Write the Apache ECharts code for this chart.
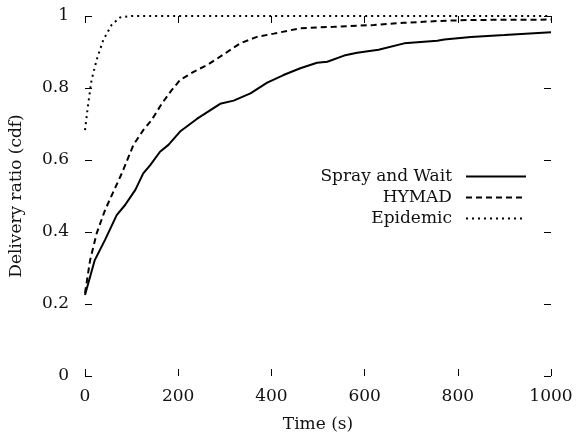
<!DOCTYPE html>
<html>
<head>
<meta charset="utf-8">
<script src="https://cdn.jsdelivr.net/npm/echarts@6/dist/echarts.min.js"></script>
<style>
  html, body { margin: 0; padding: 0; background: #fff; }
  #chart { width: 579px; height: 441px; }
</style>
</head>
<body>
<div id="chart"></div>
<script>
// values
let seriesNames = ['Spray and Wait', 'HYMAD', 'Epidemic'];

let sprayT = [0, 21, 43, 68, 86, 108, 125, 140, 161, 179, 204, 240, 290, 319, 355, 391, 426, 462, 498, 520, 556, 584, 630, 685, 756, 771, 828, 900, 1000];
let sprayV = [0.225, 0.322, 0.378, 0.447, 0.475, 0.517, 0.563, 0.586, 0.623, 0.642, 0.679, 0.714, 0.756, 0.765, 0.785, 0.815, 0.836, 0.855, 0.870, 0.873, 0.890, 0.898, 0.906, 0.924, 0.931, 0.935, 0.942, 0.947, 0.955];

let hymadT = [0, 11, 25, 43, 61, 79, 104, 125, 143, 165, 186, 204, 233, 265, 290, 333, 369, 405, 462, 534, 620, 684, 756, 828, 1000];
let hymadV = [0.23, 0.322, 0.396, 0.461, 0.512, 0.563, 0.642, 0.683, 0.711, 0.757, 0.794, 0.822, 0.845, 0.866, 0.887, 0.924, 0.942, 0.951, 0.966, 0.970, 0.975, 0.981, 0.986, 0.989, 0.99];

let epiT = [0, 7, 14, 25, 39, 57, 75, 100, 1000];
let epiV = [0.683, 0.757, 0.822, 0.878, 0.933, 0.975, 0.996, 1, 1];

let xTicks = [0, 200, 400, 600, 800, 1000];
let yTicks = [0, 0.2, 0.4, 0.6, 0.8, 1];

let font = 'DejaVu Serif';

let pairs = function (t, v) {
  let res = [];
  for (let i = 0; i < t.length; i++) {
    res.push([t[i], v[i]]);
  }
  return res;
};

let chart = echarts.init(document.getElementById('chart'));

let tickStyle = { show: true, inside: true, length: 7, lineStyle: { color: '#000', width: 1 } };
let noLine = { show: false, onZero: false };

chart.setOption({
  backgroundColor: '#fff',
  animation: false,
  grid: { left: 85, right: 28, top: 16, bottom: 65 },
  legend: {
    orient: 'vertical',
    align: 'right',
    right: 52,
    top: 168,
    padding: 0,
    itemWidth: 60,
    itemHeight: 17,
    itemGap: 4,
    itemStyle: { opacity: 0 },
    textStyle: { fontFamily: font, fontSize: 17, color: '#111', padding: [0, 9, 0, 0] },
    data: seriesNames
  },
  xAxis: [
    {
      type: 'value', min: xTicks[0], max: xTicks[xTicks.length - 1], interval: 200,
      name: 'Time (s)', nameLocation: 'middle', nameGap: 40,
      nameTextStyle: { fontFamily: font, fontSize: 17, color: '#111' },
      axisLine: noLine,
      axisTick: tickStyle,
      splitLine: { show: false },
      axisLabel: { fontFamily: font, fontSize: 17, color: '#111', margin: 12,
        formatter: function (v) { return String(v); } }
    },
    {
      type: 'value', position: 'top', min: xTicks[0], max: xTicks[xTicks.length - 1], interval: 200,
      axisLine: noLine,
      axisTick: tickStyle,
      splitLine: { show: false },
      axisLabel: { show: false }
    }
  ],
  yAxis: [
    {
      type: 'value', min: yTicks[0], max: yTicks[yTicks.length - 1], interval: 0.2,
      name: 'Delivery ratio (cdf)', nameLocation: 'middle', nameGap: 60,
      nameTextStyle: { fontFamily: font, fontSize: 17, color: '#111' },
      axisLine: noLine,
      axisTick: tickStyle,
      splitLine: { show: false },
      axisLabel: { fontFamily: font, fontSize: 17, color: '#111', margin: 16 }
    },
    {
      type: 'value', position: 'right', min: yTicks[0], max: yTicks[yTicks.length - 1], interval: 0.2,
      axisLine: noLine,
      axisTick: tickStyle,
      splitLine: { show: false },
      axisLabel: { show: false }
    }
  ],
  series: [
    {
      name: seriesNames[0], type: 'line', showSymbol: false, symbol: 'none',
      lineStyle: { color: '#000', width: 2, type: 'solid' },
      itemStyle: { color: '#000' },
      data: pairs(sprayT, sprayV)
    },
    {
      name: seriesNames[1], type: 'line', showSymbol: false, symbol: 'none',
      lineStyle: { color: '#000', width: 2, type: [6, 4] },
      itemStyle: { color: '#000' },
      data: pairs(hymadT, hymadV)
    },
    {
      name: seriesNames[2], type: 'line', showSymbol: false, symbol: 'none',
      lineStyle: { color: '#000', width: 2, type: [2, 4] },
      itemStyle: { color: '#000' },
      data: pairs(epiT, epiV)
    }
  ]
});
</script>
</body>
</html>
